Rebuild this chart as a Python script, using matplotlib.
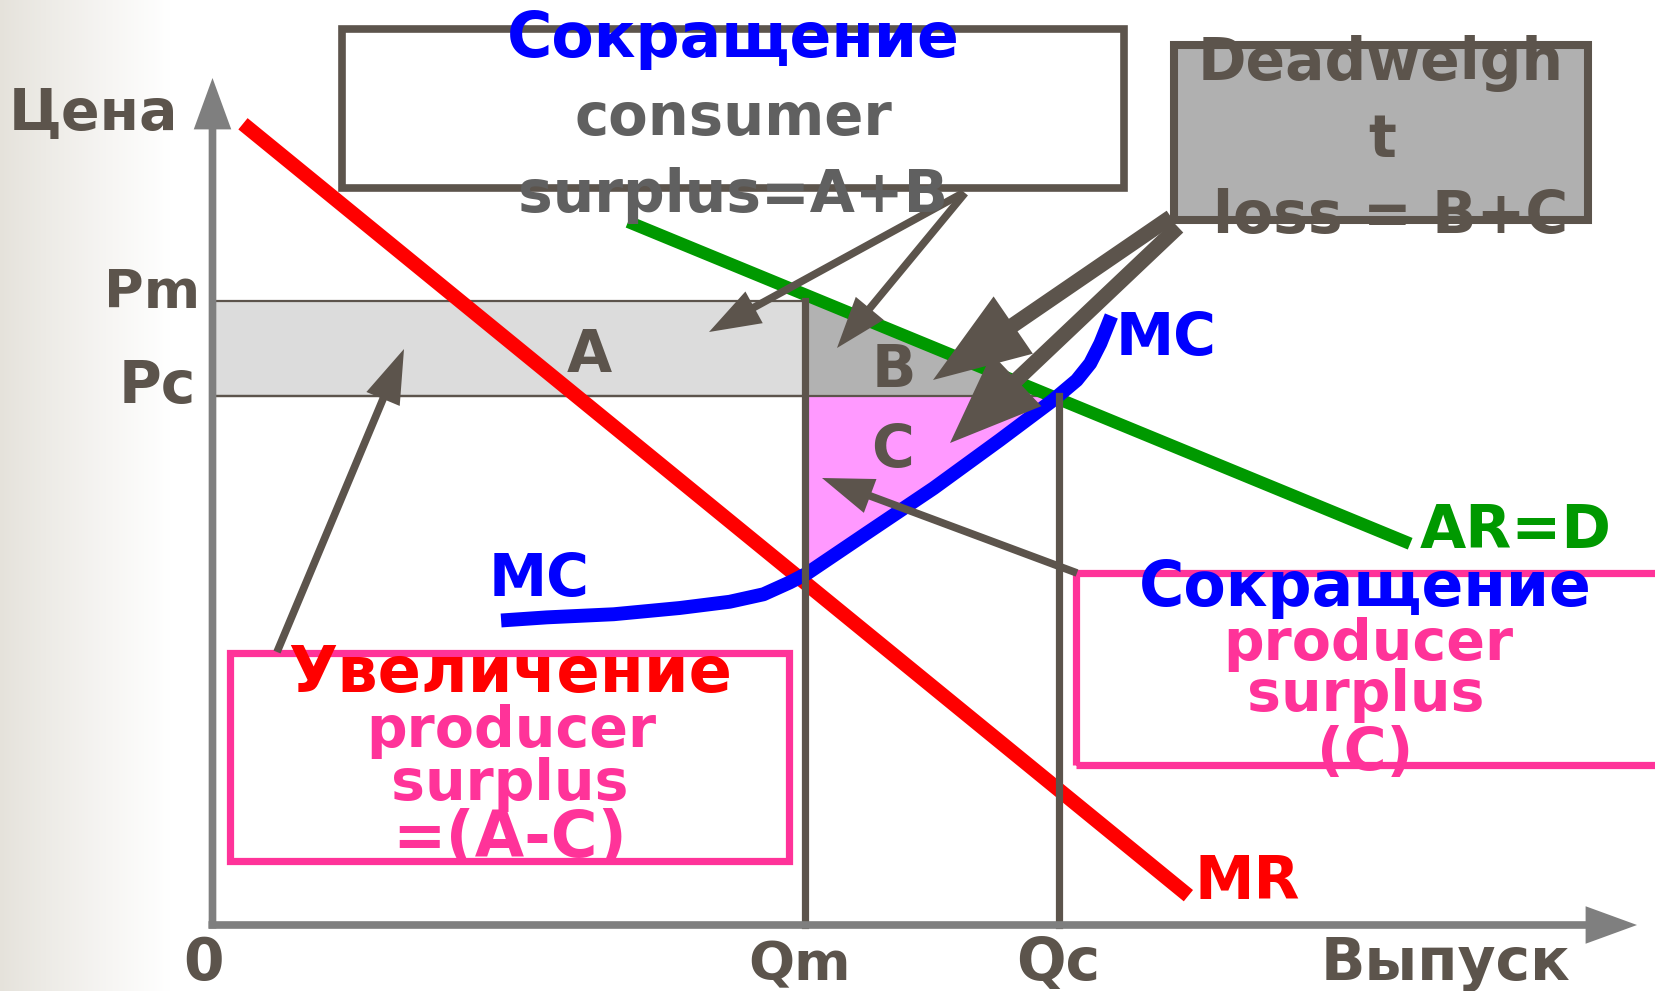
import numpy as np
import matplotlib
matplotlib.use("Agg")
import matplotlib.pyplot as plt
from matplotlib.patches import Rectangle, FancyArrowPatch, ArrowStyle

# ---------------- data (economic units) ----------------
Q_m, Q_c = 70.0, 100.0            # monopoly / competitive output
P_m, P_c = 100.0, 84.7            # monopoly / competitive price
mr_q = [3.6, 115.3]               # marginal revenue line
mr_p = [128.4, 4.7]
d_q = [49.1, 141.5]               # demand AR = D
d_p = [112.7, 61.1]
mc_q = [34.1, 39.5, 47.4, 55.2, 61.1, 65.1, 68.2, 70.2, 77.3, 85.2, 93.0, 99.3, 102.1, 103.7, 104.9, 105.7, 106.2]
mc_p = [48.8, 49.3, 49.8, 50.8, 51.8, 53.0, 54.9, 56.3, 62.8, 70.0, 77.7, 84.1, 87.3, 90.0, 93.2, 95.9, 97.6]
y_axis_label = "Цена"
x_axis_label = "Выпуск"
x_tick_labels = ["0", "Qm", "Qc"]
y_tick_labels = ["Pm", "Pc"]

# ---------------- layout ----------------
W, H = 1656, 991
X0, Y0 = 212.5, 925.0     # origin in pixels
SX, SY = 8.464, 6.24      # pixels per unit

DARK = '#5c544c'
AXC = '#7f7f7f'
PINK = '#ff3399'
RED = '#ff0000'
GREEN = '#009900'
BLUE = '#0000ff'
FAM = 'DejaVu Sans'

fig = plt.figure(figsize=(W / 100, H / 100), dpi=100)
ax = fig.add_axes([0, 0, 1, 1])
ax.axis('off')
xlim = (-X0 / SX, (W - X0) / SX)
ylim = (-(H - Y0) / SY, Y0 / SY)


def px(x, y):
    return ((x - X0) / SX, (Y0 - y) / SY)


# left background gradient
g = np.linspace(0, 1, 256) ** 0.9
c0 = np.array([229, 226, 219]) / 255.0
img = (c0[None, :] * (1 - g[:, None]) + g[:, None])[None, :, :]
ax.imshow(img, extent=[xlim[0], px(170, 0)[0], ylim[0], ylim[1]], aspect='auto', zorder=0)

# surplus areas
ax.add_patch(Rectangle((0, P_c), Q_m, P_m - P_c, fc='#dcdcdc', ec=DARK, lw=1.6, zorder=1))
qD_Pc = float(np.interp(P_c, d_p[::-1], d_q[::-1]))
qb = np.linspace(Q_m, qD_Pc, 200)
topb = np.minimum(np.interp(qb, d_q, d_p), P_m)
ax.fill_between(qb, P_c, topb, color='#b2b2b2', lw=0, zorder=1)
ax.plot(qb, topb, color=DARK, lw=1.5, zorder=1.5)
qMC_Pc = float(np.interp(P_c, mc_p, mc_q))
qc = np.linspace(Q_m, qMC_Pc, 200)
ax.fill_between(qc, np.interp(qc, mc_q, mc_p), P_c, color='#ff99ff', lw=0, zorder=1)
ax.plot([0, qD_Pc], [P_c, P_c], color=DARK, lw=1.6, zorder=1.5)

# curves
ax.plot(mr_q, mr_p, color=RED, lw=10.5, solid_capstyle='butt', zorder=3)
ax.plot(d_q, d_p, color=GREEN, lw=9.0, solid_capstyle='butt', zorder=3)
ax.plot(mc_q, mc_p, color=BLUE, lw=10.0, solid_capstyle='butt', solid_joinstyle='round', zorder=3.5)

# guide lines
ax.plot([Q_m, Q_m], [0, P_m], color=DARK, lw=5.2, zorder=4)
ax.plot([Q_c, Q_c], [0, P_c], color=DARK, lw=5.2, zorder=4)


def arrow(p0, p1, color, tail, hw, hl, z=6):
    st = ArrowStyle('Simple', head_length=hl, head_width=hw, tail_width=tail)
    ax.add_patch(FancyArrowPatch(p0, p1, arrowstyle=st, mutation_scale=1, color=color,
                                 lw=0, shrinkA=0, shrinkB=0, zorder=z))


# axes with arrows
arrow(px(208.5, 925), px(1637, 925), AXC, 5.5, 27, 37, z=4.5)
arrow(px(212.5, 928.5), px(212.5, 78), AXC, 5.5, 27, 37, z=4.5)


def label(x, y, s, color, size=42, ha='center', z=10):
    ax.text(*px(x, y), s, color=color, ha=ha, va='baseline', fontsize=size,
            fontweight='bold', family=FAM, zorder=z)


def box(x0, y0, x1, y1, ec, fc, lw):
    a, b = px(x0, y1)
    c, d = px(x1, y0)
    ax.add_patch(Rectangle((a, b), c - a, d - b, fc=fc, ec=ec, lw=lw, zorder=5))


# axis labels / ticks
label(93, 130, y_axis_label, DARK, 41)
label(200, 308, y_tick_labels[0], DARK, 39, ha='right')
label(196, 403, y_tick_labels[1], DARK, 42, ha='right')
label(204, 980, x_tick_labels[0], DARK, 42)
label(800, 980, x_tick_labels[1], DARK, 39)
label(1058, 980, x_tick_labels[2], DARK, 42)
label(1446, 980, x_axis_label, DARK, 42)

# area labels
label(589, 372, "A", DARK, 42, z=2)
label(894, 387, "B", DARK, 42, z=2)
label(893, 467, "C", DARK, 42, z=2)

# curve labels
label(539, 596, "MC", BLUE, 42)
label(1166, 355, "MC", BLUE, 42)
label(1516, 548, "AR=D", GREEN, 43)
label(1247, 899, "MR", RED, 43)

# top box
box(342, 29, 1124, 188, DARK, 'white', 5.5)
label(733, 57, "Сокращение", BLUE, 44.5)
label(733, 135, "consumer", '#606060', 41.5)
label(733, 212, "surplus=A+B", '#606060', 42)

# deadweight box
box(1174, 45.5, 1588, 220.5, DARK, '#b0b0b0', 5.8)
label(1381, 80, "Deadweigh", DARK, 42)
label(1382, 157, "t", DARK, 42)
label(1391, 233, "loss = B+C", DARK, 42)

# left pink box
box(229.5, 653, 789, 860.5, PINK, 'none', 5.2)
label(510, 692, "Увеличение", RED, 46)
label(511, 747, "producer", PINK, 41)
label(510, 800, "surplus", PINK, 41)
label(510, 857, "=(A-C)", PINK, 46)

# right pink box
box(1076.5, 573, 1660, 764.5, PINK, 'none', 5.2)
label(1365, 606, "Сокращение", BLUE, 44.5)
label(1368, 660, "producer", PINK, 41)
label(1366, 711, "surplus", PINK, 41)
label(1365, 770, "(C)", PINK, 42)

# pointer arrows
arrow(px(963, 193), px(709, 332), DARK, 5.5, 26, 37, z=7)
arrow(px(965, 193), px(837, 348), DARK, 5.5, 26, 37, z=7)
arrow(px(277, 652), px(404, 349), DARK, 5.5, 26, 39, z=7)
arrow(px(1077, 573), px(822, 478), DARK, 5.5, 26, 37, z=7)
arrow(px(1171, 217), px(933, 380), DARK, 11.0, 50, 70, z=7)
arrow(px(1178, 227), px(950, 443), DARK, 11.0, 52, 66, z=7)

ax.set_xlim(*xlim)
ax.set_ylim(*ylim)
fig.savefig("out.png", dpi=100)
